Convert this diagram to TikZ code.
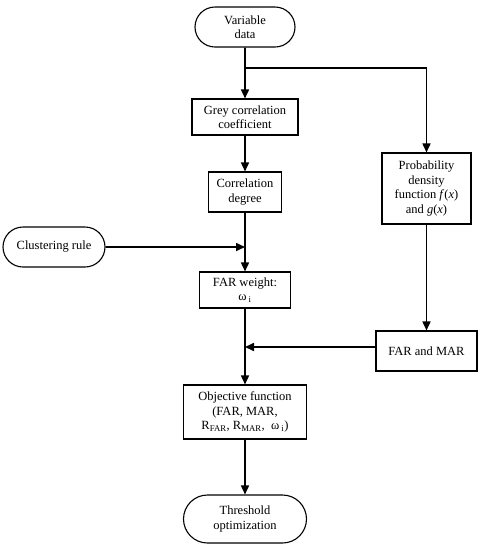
\documentclass[tikz,border=0pt]{standalone}
\usepackage{fontspec}
\setmainfont{Liberation Serif}
\usetikzlibrary{shapes.misc,arrows.meta}
\begin{document}
\begin{tikzpicture}[x=1pt,y=-1pt,
  every node/.style={font=\fontsize{12.5}{14.5}\selectfont, align=center, inner sep=0pt},
  box/.style={draw, line width=1.1pt, rectangle},
  pill/.style={draw, line width=1.1pt, rounded rectangle},
  conn/.style={line width=1.6pt},
  arr/.style={conn, -{Triangle[length=9pt,width=8pt]}}]
\useasboundingbox (0,0) rectangle (484,550);
\node[pill, minimum width=100pt, minimum height=40pt] (var) at (245,27) {Variable\\data};
\node[box, minimum width=106pt, minimum height=36pt] (grey) at (245,117) {Grey correlation\\coefficient};
\node[box, minimum width=73pt, minimum height=40pt] (corr) at (245,192) {Correlation\\degree};
\node[pill, minimum width=102pt, minimum height=40pt] (clus) at (54,247) {Clustering rule};
\node[box, minimum width=91pt, minimum height=36pt] (farw) at (245,290) {FAR weight:\\ω\,\textsubscript{i}};
\node[box, minimum width=89pt, minimum height=71pt] (prob) at (426.5,188.5) {Probability\\density\\function \textit{f}(\textit{x})\\and \textit{g}(\textit{x})};
\node[box, minimum width=101pt, minimum height=40pt] (farmar) at (426.5,351) {FAR and MAR};
\node[box, minimum width=123pt, minimum height=54pt] (obj) at (245,412) {Objective function\\(FAR, MAR,\\R\textsubscript{FAR}, R\textsubscript{MAR}, \ ω\,\textsubscript{i})};
\node[pill, minimum width=123pt, minimum height=48pt] (thr) at (245,519) {Threshold\\optimization};
\coordinate (br) at (245,68);
\coordinate (brr) at (426.5,68);
\coordinate (cj) at (245,247);
\coordinate (fj) at (245,347);
\draw[arr] (var) -- (grey);
\draw[arr] (br) -- (brr) -- (prob);
\draw[arr] (grey) -- (corr);
\draw[arr] (corr) -- (farw);
\draw[arr] (clus) -- (cj);
\draw[arr] (farw) -- (obj);
\draw[arr] (fj -| farmar.west) -- (fj);
\draw[arr] (prob) -- (farmar);
\draw[arr] (obj) -- (thr);
\end{tikzpicture}
\end{document}
